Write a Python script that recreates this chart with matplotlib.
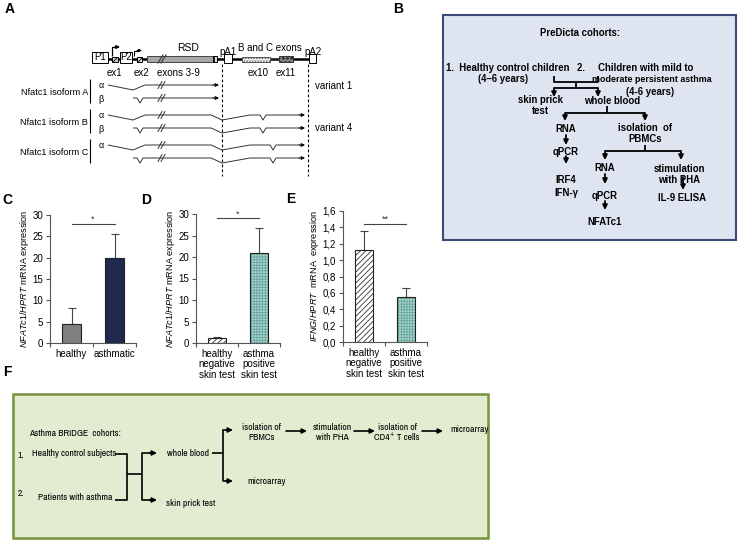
import matplotlib
matplotlib.use("Agg")
import matplotlib.pyplot as plt
from matplotlib import font_manager
from matplotlib.patches import Rectangle

plt.rcParams['font.family'] = ['Liberation Sans', 'DejaVu Sans']
plt.rcParams['mathtext.fontset'] = 'custom'
plt.rcParams['mathtext.it'] = 'Liberation Sans:italic'
plt.rcParams['mathtext.rm'] = 'Liberation Sans'
plt.rcParams['hatch.linewidth'] = 0.6

# bar chart data
c_groups = ["healthy", "asthmatic"]
c_vals = [4.5, 20.0]
c_err = [3.6, 5.5]
c_sig = 28.0

d_groups = ["healthy\nnegative\nskin test", "asthma\npositive\nskin test"]
d_vals = [1.1, 21.0]
d_err = [0.4, 5.8]
d_sig = 29.0

e_groups = ["healthy\nnegative\nskin test", "asthma\npositive\nskin test"]
e_vals = [1.12, 0.55]
e_err = [0.23, 0.11]
e_sig = 1.44
e_ticks = [0.0, 0.2, 0.4, 0.6, 0.8, 1.0, 1.2, 1.4, 1.6]

W, H = 738, 542
fig = plt.figure(figsize=(W / 100, H / 100), dpi=100)
ov = fig.add_axes([0, 0, 1, 1])
ov.set_xlim(0, W)
ov.set_ylim(H, 0)
ov.axis("off")

# panel F uses a narrow face if one is installed
narrow = [f.name for f in font_manager.fontManager.ttflist
          if "Narrow" in f.name or "Condensed" in f.name]
if narrow:
    NF = dict(size=6.9, family=[sorted(narrow)[0], 'DejaVu Sans'])
else:
    NF = dict(size=5.2, family=['Liberation Sans', 'DejaVu Sans'])


def line(xs, ys, lw=1.0, color="black", **kw):
    ov.plot(xs, ys, color=color, lw=lw, solid_capstyle="butt", **kw)


def arrow(x0, y0, x1, y1, lw=1.2, color="black", ms=7):
    ov.annotate("", xy=(x1, y1), xytext=(x0, y0),
                arrowprops=dict(arrowstyle="-|>", lw=lw, color=color,
                                mutation_scale=ms, shrinkA=0, shrinkB=0))


def txt(x, y, s, size=6.5, ha="center", va="center", **kw):
    ov.text(x, y, s, fontsize=size, ha=ha, va=va, **kw)


def box(x0, y0, x1, y1, fc="white", ec="black", lw=0.7, hatch=None):
    ov.add_patch(Rectangle((x0, y0), x1 - x0, y1 - y0, facecolor=fc,
                           edgecolor=ec, lw=lw, hatch=hatch, zorder=3))


# panel letters
for letter, x, y in [("A", 10, 9), ("B", 398, 9), ("C", 7, 200), ("D", 146, 200),
                     ("E", 291, 199), ("F", 7, 372)]:
    txt(x, y, letter, size=10, weight="bold", ha="center")

# ---------------- panel A ----------------
line([108, 309], [59, 59], lw=1.8)
line([270, 279], [59, 59], lw=0.6, color="white")
line([270, 279], [59, 59], lw=0.6)
box(92, 52, 108, 63)
txt(100, 57.5, "P1", size=7)
box(112, 56.5, 118, 62, fc="#cccccc", hatch="////")
box(120, 52, 132, 63)
txt(126, 57.5, "P2", size=7)
box(137, 56.5, 142, 62, fc="#dddddd", hatch="xxxx")
box(147, 56, 213, 62, fc="#a6a6a6", ec="#444444")
box(213, 56, 217, 62, fc="#dddddd", hatch="||||")
box(224, 54, 232, 63)
box(242, 56.5, 270, 62, fc="#eeeeee", ec="#555555", hatch="......")
box(279, 56, 293, 62, fc="#888888", ec="#333333", hatch="oooo")
box(309, 54, 316, 63)
# promoter arrows
line([112, 112, 116], [56, 47, 47], lw=0.9)
arrow(115, 47, 120, 47, lw=0.9, ms=5)
line([134, 134, 138], [56, 50.5, 50.5], lw=0.8)
arrow(137, 50.5, 142, 50.5, lw=0.8, ms=4)
# break mark on gene
for dx in (0, 3):
    ov.plot([158 + dx, 163 + dx], [63, 55], color="#333333", lw=0.8, zorder=4)

txt(188, 48, "RSD", size=7.5)
txt(228, 52, "pA1", size=7)
txt(270, 48, "B and C exons", size=7)
txt(313, 52, "pA2", size=7)
txt(114, 73, "ex1", size=7)
txt(141, 73, "ex2", size=7)
txt(178, 73, "exons 3-9", size=7)
txt(258, 73, "ex10", size=7)
txt(286, 73, "ex11", size=7)

for xd in (222, 308):
    line([xd, xd], [64, 176], lw=0.8, ls=(0, (2.5, 2)))

iso_names = ["Nfatc1 isoform A", "Nfatc1 isoform B", "Nfatc1 isoform C"]
iso_rows = [(85, 98), (115, 128), (145, 158)]
iso_vx = [None, 263, 273]
for name, (ya, yb), vx in zip(iso_names, iso_rows, iso_vx):
    ym = (ya + yb) / 2
    txt(88, ym + 1, name, size=6.6, ha="right")
    line([90, 90], [ya - 6, yb + 5], lw=0.8)
    txt(101, ya, "α", size=6.5)
    if name.endswith("A") or name.endswith("B"):
        txt(101, yb + 1, "β", size=6.5)
    for k, y in enumerate((ya, yb)):
        if k == 0:
            xs, ys = [108, 133, 145], [y, y + 5, y]
        else:
            xs, ys = [133, 137, 140, 143], [y, y, y + 5, y]
        if vx is None:
            xs += [214]
            ys += [y]
            end = 219
        else:
            xs += [211, 222, 250, vx - 3, vx, vx + 3, 300]
            ys += [y, y + 5, y, y, y + 5, y, y]
            end = 305
        line(xs, ys, lw=0.7, color="#333333")
        arrow(xs[-1] - 1, y, end, y, lw=0.7, ms=5)
        for dx in (0, 3):
            ov.plot([158 + dx, 162 + dx], [y + 3.5, y - 3.5], color="#333333", lw=0.7)

txt(315, 86, "variant 1", size=7, ha="left")
txt(315, 128, "variant 4", size=7, ha="left")

# ---------------- panel B ----------------
ov.add_patch(Rectangle((443, 15), 293, 225, facecolor="#dfe4f1",
                       edgecolor="#3c4a78", lw=1.5))
bk = dict(size=6.9, weight="bold")
txt(580, 33, "PreDicta cohorts:", **bk)
txt(446, 68, "1.  Healthy control children", ha="left", **bk)
txt(503, 79, "(4–6 years)", **bk)
txt(577, 68, "2.     Children with mild to", ha="left", **bk)
txt(652, 80, "moderate persistent asthma", size=6.4, weight="bold")
txt(650, 92, "(4-6 years)", **bk)
line([554, 554, 598, 598], [76, 82, 82, 76], lw=1.3)
line([576, 576], [82, 88], lw=1.3)
line([554, 598], [88, 88], lw=1.3)
arrow(554, 88, 554, 97, lw=1.3)
arrow(598, 88, 598, 97, lw=1.3)
txt(540, 100, "skin prick", **bk)
txt(540, 111, "test", **bk)
txt(612, 101, "whole blood", **bk)
line([607, 607], [106, 113], lw=1.3)
line([565, 645], [113, 113], lw=1.3)
arrow(565, 113, 565, 121, lw=1.3)
arrow(645, 113, 645, 121, lw=1.3)
txt(566, 129, "RNA", **bk)
arrow(566, 135, 566, 145, lw=1.3)
txt(566, 152, "qPCR", **bk)
arrow(566, 156, 566, 164, lw=1.3)
txt(566, 180, "IRF4", **bk)
txt(566, 193, "IFN-γ", **bk)
txt(645, 128, "isolation  of", **bk)
txt(645, 139, "PBMCs", **bk)
line([645, 645], [145, 151], lw=1.3)
line([605, 681], [151, 151], lw=1.3)
arrow(605, 151, 605, 160, lw=1.3)
arrow(681, 151, 681, 160, lw=1.3)
txt(605, 168, "RNA", **bk)
arrow(605, 174, 605, 184, lw=1.3)
txt(605, 196, "qPCR", **bk)
arrow(605, 201, 605, 210, lw=1.3)
txt(605, 222, "NFATc1", **bk)
txt(679, 169, "stimulation", **bk)
txt(679, 180, "with PHA", **bk)
arrow(683, 177, 683, 190, lw=1.3)
txt(682, 198, "IL-9 ELISA", **bk)

# ---------------- panel F ----------------
ov.add_patch(Rectangle((13, 394), 475, 144, facecolor="#e3ebd1",
                       edgecolor="#76923c", lw=1.8))
txt(29, 434, "Asthma BRIDGE  cohorts:", ha="left", **NF)
txt(18, 456, "1.", ha="left", **NF)
txt(32, 454, "Healthy control subjects", ha="left", **NF)
txt(18, 494, "2.", ha="left", **NF)
txt(38, 497, "Patients with asthma", ha="left", **NF)
line([115, 127, 127, 115], [454, 454, 500, 500], lw=1.2)
line([127, 142], [474, 474], lw=1.2)
line([155, 142, 142, 155], [453, 453, 500, 500], lw=1.2)
arrow(150, 453, 157, 453, lw=1.2)
arrow(150, 500, 157, 500, lw=1.2)
txt(167, 453, "whole blood", ha="left", **NF)
txt(166, 503, "skin prick test", ha="left", **NF)
line([212, 223], [453, 453], lw=1.2)
line([229, 223, 223, 229], [430, 430, 481, 481], lw=1.2)
arrow(227, 430, 233, 430, lw=1.2)
arrow(227, 481, 233, 481, lw=1.2)
txt(262, 428, "isolation of", **NF)
txt(262, 438, "PBMCs", **NF)
arrow(286, 431, 307, 431, lw=1.2)
txt(332, 428, "stimulation", **NF)
txt(332, 438, "with PHA", **NF)
arrow(354, 431, 375, 431, lw=1.2)
txt(397, 428, "isolation of", **NF)
txt(397, 438, "CD4⁺ T cells", **NF)
arrow(422, 431, 443, 431, lw=1.2)
txt(450, 430, "microarray", ha="left", **NF)
txt(247, 481, "microarray", ha="left", **NF)


# ---------------- bar panels C, D, E ----------------
def px_axes(l, t, r, b):
    return fig.add_axes([l / W, 1 - b / H, (r - l) / W, (b - t) / H])


def bar_panel(ax, groups, vals, errs, sig, stars, ymax, styles, ylabel):
    x = list(range(len(vals)))
    for xi, v, st in zip(x, vals, styles):
        ax.bar(xi, v, width=0.42, color=st[0], edgecolor=st[1], hatch=st[2],
               linewidth=0, zorder=2)
        ax.bar(xi, v, width=0.42, fill=False, edgecolor="#222222", linewidth=0.8, zorder=3)
    ax.errorbar(x, vals, yerr=[[0] * len(errs), errs], fmt="none",
                ecolor="#444444", elinewidth=0.8, capsize=3, capthick=0.8, zorder=1)
    ax.plot([0, 1], [sig, sig], color="#444444", lw=0.8)
    ax.text(0.5, sig, stars, ha="center", va="bottom", fontsize=6.5, color="#333333")
    ax.set_xlim(-0.5, 1.5)
    ax.set_ylim(0, ymax)
    for s in ("top", "right"):
        ax.spines[s].set_visible(False)
    for s in ("left", "bottom"):
        ax.spines[s].set_color("#555555")
        ax.spines[s].set_linewidth(0.8)
    ax.set_xticks([-0.5, 0.5, 1.5])
    ax.set_xticklabels([])
    ax.set_xticks(x, minor=True)
    ax.set_xticklabels(groups, minor=True, fontsize=7, linespacing=1.1)
    ax.tick_params(axis="x", which="minor", length=0, pad=4)
    ax.tick_params(axis="x", which="major", length=3, width=0.8, color="#555555")
    ax.tick_params(axis="y", length=3, width=0.8, labelsize=7, color="#555555", pad=2)
    ax.set_ylabel(ylabel, fontsize=6.6, labelpad=1)


gray = ("#808080", "#808080", None)
navy = ("#1f2a4e", "#1f2a4e", None)
striped = ("white", "#333333", "//////")
teal = ("#a7d8d1", "#6aa39b", "++++++")

ax_c = px_axes(50, 215, 136, 343)
bar_panel(ax_c, c_groups, c_vals, c_err, c_sig, "*", 30, [gray, navy],
          r"$\it{NFATc1/HPRT}$ mRNA expression")
ax_c.set_yticks([0, 5, 10, 15, 20, 25, 30])

ax_d = px_axes(196, 214, 280, 343)
bar_panel(ax_d, d_groups, d_vals, d_err, d_sig, "*", 30, [striped, teal],
          r"$\it{NFATc1/HPRT}$ mRNA expression")
ax_d.set_yticks([0, 5, 10, 15, 20, 25, 30])

ax_e = px_axes(343, 211, 427, 342)
bar_panel(ax_e, e_groups, e_vals, e_err, e_sig, "**", 1.6, [striped, teal],
          r"$\it{IFNG/HPRT}$  mRNA  expression")
ax_e.set_yticks(e_ticks)
ax_e.set_yticklabels([f"{t:.1f}".replace(".", ",") for t in e_ticks])

fig.savefig("out.png", dpi=100)
